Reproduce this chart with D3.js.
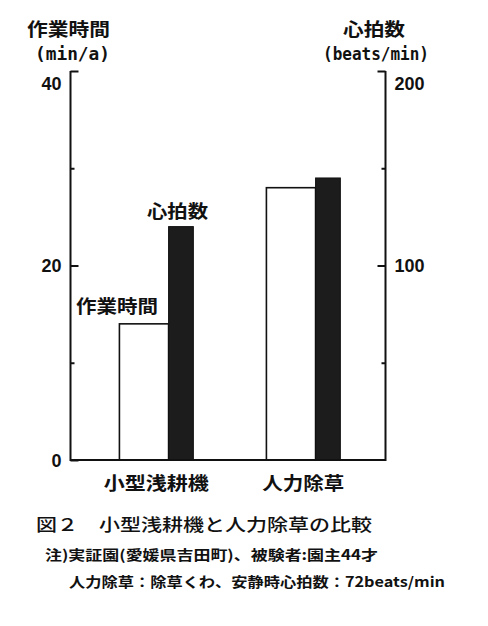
<!DOCTYPE html>
<html><head><meta charset="utf-8">
<script src="https://cdn.jsdelivr.net/npm/d3@7"></script>
<style>body{margin:0;background:#fff}svg{display:block}</style>
</head><body><svg id="c" width="488" height="626"></svg>
<script>
const categories = ["小型浅耕機", "人力除草"];
const workTime = [14, 28];          // 作業時間 (min/a)
const heartRate = [120, 145];       // 心拍数 (beats/min)
const leftMajor = [0, 20, 40];
const leftMinor = [10, 30];
const rightMajor = [100, 200];
const rightMinor = [50, 150];
const leftTitle = ["作業時間", "(min/a)"];
const rightTitle = ["心拍数", "(beats/min)"];
const seriesLabels = ["作業時間", "心拍数"];
const caption = "図２　小型浅耕機と人力除草の比較";
const notes = ["注)実証園(愛媛県吉田町)、被験者:園主44才", "人力除草：除草くわ、安静時心拍数：72beats/min"];

const svg = d3.select("#c");
const JP = "'Noto Sans CJK JP', 'Noto Sans', sans-serif";
const NUM = "'Liberation Sans', Arial, sans-serif";
const MONO = "'DejaVu Sans Mono', 'Liberation Mono', monospace";

const L = 70.5, R = 385.5, B = 460, T = 71;
const yL = d3.scaleLinear().domain([0, 40]).range([B, T]);
const yR = d3.scaleLinear().domain([0, 200]).range([B, T]);
const x = d3.scaleBand().domain(categories).range([L, R])
  .paddingInner(0.497).paddingOuter(0.32).align(0.52);

const g = svg.append("g");

function txt(t, xx, yy, opts) {
  const e = g.append("text").text(t).attr("x", xx).attr("y", yy)
    .attr("font-family", opts.ff || JP).attr("font-size", opts.fs || 16)
    .attr("font-weight", opts.fw || "bold").attr("fill", "#111")
    .attr("text-anchor", opts.anchor || "start")
    .attr("dominant-baseline", "central");
  if (opts.w) e.attr("textLength", opts.w).attr("lengthAdjust", "spacingAndGlyphs");
  return e;
}

// bars
const bw = x.bandwidth();
const wW = bw * 0.665;
categories.forEach((c, i) => {
  g.append("rect").attr("x", x(c)).attr("y", yL(workTime[i]))
    .attr("width", wW).attr("height", B - yL(workTime[i]))
    .attr("fill", "#fff").attr("stroke", "#111").attr("stroke-width", 1.6);
  g.append("rect").attr("x", x(c) + wW).attr("y", yR(heartRate[i]))
    .attr("width", bw - wW).attr("height", B - yR(heartRate[i]))
    .attr("fill", "#1c1c1c").attr("stroke", "#111").attr("stroke-width", 1);
});

// axes
function styleAxis(sel, top) {
  sel.selectAll("path,line").attr("stroke", "#111").attr("stroke-width", 2);
  sel.selectAll("text").attr("font-family", NUM).attr("font-size", 18)
    .attr("font-weight", "bold").attr("fill", "#111")
    .attr("dy", d => d === top ? "1.0em" : "0.36em");
}
g.append("g").attr("transform", `translate(${L},0)`)
  .call(d3.axisLeft(yL).tickValues(leftMajor).tickSize(-8).tickSizeOuter(0).tickPadding(9).tickFormat(d3.format("d")))
  .call(styleAxis, 40).call(s => s.select(".domain").remove());
g.append("g").attr("transform", `translate(${L},0)`)
  .call(d3.axisLeft(yL).tickValues(leftMinor).tickSize(-4).tickSizeOuter(0).tickFormat(""))
  .call(styleAxis).call(s => s.select(".domain").remove());
g.append("g").attr("transform", `translate(${R},0)`)
  .call(d3.axisRight(yR).tickValues(rightMajor).tickSize(-8).tickSizeOuter(0).tickPadding(9).tickFormat(d3.format("d")))
  .call(styleAxis, 200).call(s => s.select(".domain").remove());
g.append("g").attr("transform", `translate(${R},0)`)
  .call(d3.axisRight(yR).tickValues(rightMinor).tickSize(-4).tickSizeOuter(0).tickFormat(""))
  .call(styleAxis).call(s => s.select(".domain").remove());
// frame: left, bottom, right
g.append("path").attr("d", `M${L},${T}V${B}H${R}V${T}`)
  .attr("fill", "none").attr("stroke", "#111").attr("stroke-width", 2);

// category labels
categories.forEach((c, i) => {
  txt(c, x(c) + bw / 2, 482, { fs: 18, anchor: "middle", w: i === 0 ? 105 : 82 });
});

// axis titles
txt(leftTitle[0], 27, 28, { fs: 18, w: 83 });
txt(leftTitle[1], 35, 54, { fs: 17, ff: MONO, w: 75 });
txt(rightTitle[0], 343, 28, { fs: 18, w: 62 });
txt(rightTitle[1], 323, 54, { fs: 17, ff: MONO, w: 106 });

// series annotations
txt(seriesLabels[0], 76, 305, { fs: 18, w: 82 });
txt(seriesLabels[1], 147, 210, { fs: 18, w: 61 });

// caption & notes
txt(caption, 36, 523, { fs: 17, fw: "500", w: 336 });
txt(notes[0], 45, 554, { fs: 14, w: 333 });
txt(notes[1], 69, 581, { fs: 14, w: 376 });
</script></body></html>
